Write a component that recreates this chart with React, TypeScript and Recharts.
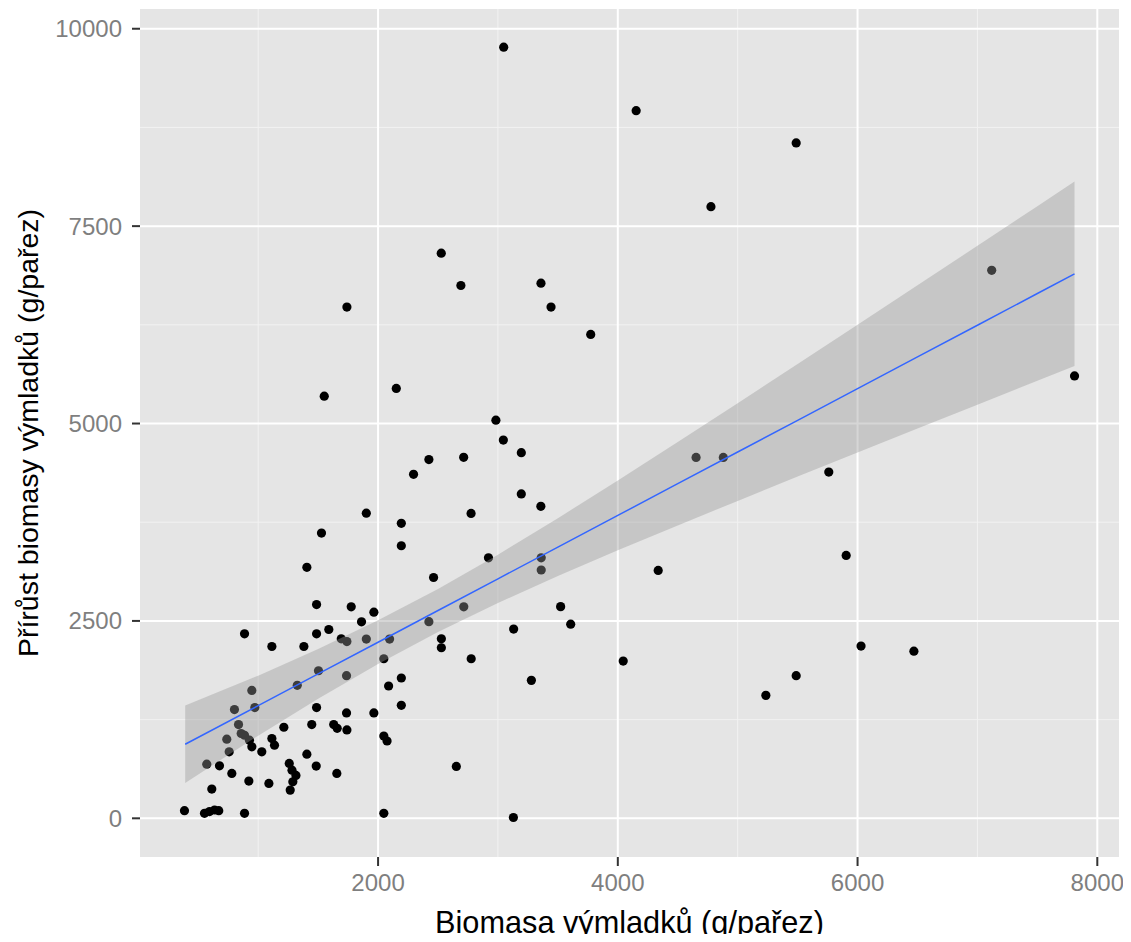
import React from 'react'
import { CartesianGrid, ComposedChart, Scatter, Area, Line, XAxis, YAxis } from 'recharts'

// measured points: biomass (x) vs. increment (y), g per stump
const pointX = [
  385, 552, 594, 636, 671, 886, 613, 571, 677, 780,
  922, 1089, 758, 738, 927, 947, 1030, 1114, 1136, 1406,
  1259, 1282, 1315, 1289, 1267, 1484, 1656, 802, 972, 836,
  858, 886, 1214, 1447, 1630, 1659, 1740, 1487, 1737, 1965,
  947, 1326, 1503, 1737, 2088, 2048, 2075, 2048, 886, 1114,
  1381, 1487, 1589, 1693, 1740, 1902, 2096, 2048, 1487, 1776,
  1965, 1862, 1406, 1528, 1551, 1740, 1902, 2194, 2194, 2152,
  2194, 2194, 2653, 3129, 2424, 2714, 3195, 2296, 3195, 3358,
  2776, 2463, 2921, 3361, 3361, 2715, 2424, 3131, 2528, 2528,
  2777, 3279, 2983, 3045, 3523, 3607, 3048, 2527, 2691, 3359,
  3443, 3774, 4153, 5488, 4777, 7119, 7810, 4653, 4880, 5760,
  5905, 4337, 4045, 6029, 6470, 5488, 5235,
]
const pointY = [
  97, 63, 85, 105, 97, 63, 370, 686, 665, 568,
  471, 442, 842, 1002, 989, 906, 842, 1010, 926, 812,
  695, 610, 543, 463, 357, 661, 568, 1377, 1402, 1187,
  1074, 1052, 1153, 1187, 1187, 1140, 1120, 1402, 1335, 1335,
  1620, 1684, 1869, 1806, 1676, 1042, 979, 63, 2337, 2176,
  2176, 2337, 2391, 2273, 2239, 2270, 2270, 2021, 2707, 2678,
  2611, 2488, 3179, 3612, 5346, 6475, 3865, 3736, 3452, 5444,
  1777, 1431, 657, 10, 4543, 4572, 4631, 4357, 4108, 3951,
  3862, 3050, 3299, 3299, 3145, 2678, 2491, 2397, 2273, 2160,
  2021, 1747, 5043, 4791, 2681, 2459, 9767, 7157, 6748, 6778,
  6475, 6129, 8962, 8554, 7747, 6940, 5603, 4571, 4571, 4385,
  3330, 3140, 1991, 2181, 2117, 1806, 1557,
]

// regression line and its confidence band
const fitX = [391, 1000, 1500, 2000, 2500, 3000, 3500, 4000, 4500, 5000, 5500, 6000, 6500, 7000, 7500, 7810]
const fitY = [938, 1427, 1829, 2230, 2632, 3033, 3435, 3836, 4238, 4639, 5041, 5442, 5844, 6245, 6647, 6896]
const bandLow = [448, 1047, 1513, 1953, 2359, 2727, 3069, 3394, 3710, 4020, 4328, 4633, 4937, 5239, 5541, 5728]
const bandHigh = [1428, 1807, 2145, 2507, 2905, 3339, 3801, 4278, 4766, 5258, 5754, 6251, 6751, 7251, 7753, 8064]

const xTicks = [2000, 4000, 6000, 8000]
const yTicks = [0, 2500, 5000, 7500, 10000]
const xMinor = [1000, 3000, 5000, 7000]
const yMinor = [1250, 3750, 6250, 8750]

const points = pointX.map((x, i) => ({ x, y: pointY[i] }))
const band = fitX.map((x, i) => ({ x, fit: fitY[i], lo: bandLow[i], hi: bandHigh[i] }))

const font = '"Liberation Sans", Arial, sans-serif'

const Dot = (p: any) => <circle cx={p.cx} cy={p.cy} r={4.6} fill="#000" />

export default function App() {
  return (
    // negative bottom margin cancels the body margin so the page doesn't scroll
    <div style={{ fontFamily: font, marginBottom: -8 }}>
      <ComposedChart width={1115} height={934} data={band} margin={{ top: 1, right: 4, bottom: 0, left: 0 }}>
        <CartesianGrid fill="#E5E5E5" stroke="#F2F2F2" strokeWidth={1}
          horizontalValues={yMinor} verticalValues={xMinor} />
        <CartesianGrid stroke="#FFFFFF" strokeWidth={2}
          horizontalValues={yTicks} verticalValues={xTicks} />
        <XAxis dataKey="x" type="number" domain={[14, 8181]} ticks={xTicks} allowDataOverflow
          interval={0} height={85} axisLine={false}
          tickLine={{ stroke: '#333333', strokeWidth: 2 }} tickSize={9} tickMargin={8}
          tick={{ fill: '#7F7F7F', fontSize: 24, fontFamily: font }}
          label={{ value: 'Biomasa výmladků (g/pařez)', position: 'insideBottom', offset: 9,
            fill: '#000', fontSize: 30.7, fontFamily: font }} />
        <YAxis type="number" domain={[-490, 10250]} ticks={yTicks} allowDataOverflow
          interval={0} width={132} axisLine={false}
          tickLine={{ stroke: '#333333', strokeWidth: 2 }} tickSize={8} tickMargin={10}
          tick={{ fill: '#7F7F7F', fontSize: 24, fontFamily: font }}
          label={{ value: 'Přírůst biomasy výmladků (g/pařez)', angle: -90, position: 'insideLeft',
            offset: 20, fill: '#000', fontSize: 28.5, fontFamily: font, style: { textAnchor: 'middle' } }} />
        <Scatter data={points} dataKey="y" shape={Dot} isAnimationActive={false} />
        <Area dataKey={(d: any) => [d.lo, d.hi]} type="linear" stroke="none" fill="#999999"
          fillOpacity={0.4} isAnimationActive={false} activeDot={false} zIndex={650} />
        <Line dataKey="fit" type="linear" stroke="#3366FF" strokeWidth={1.5} dot={false}
          activeDot={false} isAnimationActive={false} zIndex={700} />
      </ComposedChart>
    </div>
  )
}
